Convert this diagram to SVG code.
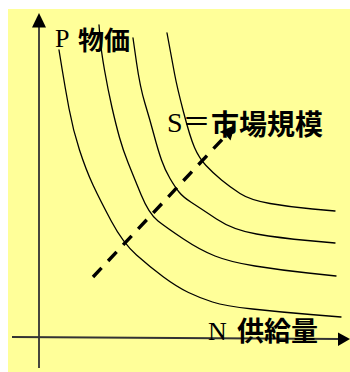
<svg xmlns="http://www.w3.org/2000/svg" width="350" height="372" viewBox="0 0 350 372">
<style>
.curve{fill:none;stroke:#000;stroke-width:1.3;stroke-linejoin:round;stroke-linecap:round}
.axis{fill:none;stroke:#333;stroke-width:1.8}
.head{fill:#000}
.lat{font-family:"Liberation Serif","Noto Sans CJK JP",serif;fill:#000}
.cjk{font-family:"Noto Sans CJK JP","Noto Sans CJK SC",sans-serif;font-weight:bold;fill:#000}
</style>
<rect x="8" y="9" width="342" height="363" fill="#FFFF99"/>
<g id="axes">
<line class="axis" x1="39" y1="368" x2="39" y2="24"/>
<polygon class="head" points="39,13 32,27.5 46,27.5"/>
<line class="axis" x1="12" y1="337" x2="340" y2="339"/>
<polygon class="head" points="350,339 338,332.5 338,346"/>
</g>
<g id="curves">
<path class="curve" d="M59,50 L62,68.5 Q65,87 69,108.5 Q73,130 79.5,150 Q86,170 93,185 Q100,200 111.5,221.5 Q123,243 136.5,255 Q150,267 163.5,277 Q177,287 188.5,292.5 Q200,298 212.5,302 Q225,306 252.5,309 Q280,312 310.5,314.5 L341,317"/>
<path class="curve" d="M99,25 L100,37.5 Q101,50 104.5,70 Q108,90 112,107.5 Q116,125 119.5,137.5 Q123,150 128,162.5 Q133,175 141,194.5 Q149,214 158,221 Q167,228 183.5,239 Q200,250 215,256 Q230,262 255,266 Q280,270 308,273 L336,276"/>
<path class="curve" d="M133,38 L136.5,62.5 Q140,87 145,103.5 Q150,120 154,135 Q158,150 161.5,160 Q165,170 170,178.5 Q175,187 179,192 Q183,197 191.5,202.5 Q200,208 216.5,219 Q233,230 256.5,234 Q280,238 307.5,240.5 L335,243"/>
<path class="curve" d="M167,33 L169.5,46.5 Q172,60 174.5,73.5 Q177,87 183.5,112 Q190,137 194.5,147.5 Q199,158 206,165.5 Q213,173 221.5,180 Q230,187 240,193.5 Q250,200 270,203.5 Q290,207 312.5,209 L335,211"/>
</g>
<g id="connectors">
<line x1="93" y1="277" x2="224" y2="137.5" stroke="#000" stroke-width="3.4" stroke-dasharray="12.5 9.5"/>
<polygon class="head" points="235,125 230.5,140.5 225.5,134.5 219.5,132"/>
</g>
<g id="label-p">
<text class="lat" x="55" y="47" font-size="26">P</text>
<text class="cjk" x="78" y="50" font-size="26">物価</text>
</g>
<g id="label-s">
<text class="lat" x="167" y="132" font-size="28">S＝</text>
<text class="cjk" x="211" y="135" font-size="28">市場規模</text>
</g>
<g id="label-n">
<text class="lat" x="208" y="340" font-size="26">N</text>
<text class="cjk" x="237" y="341" font-size="27">供給量</text>
</g>
</svg>
